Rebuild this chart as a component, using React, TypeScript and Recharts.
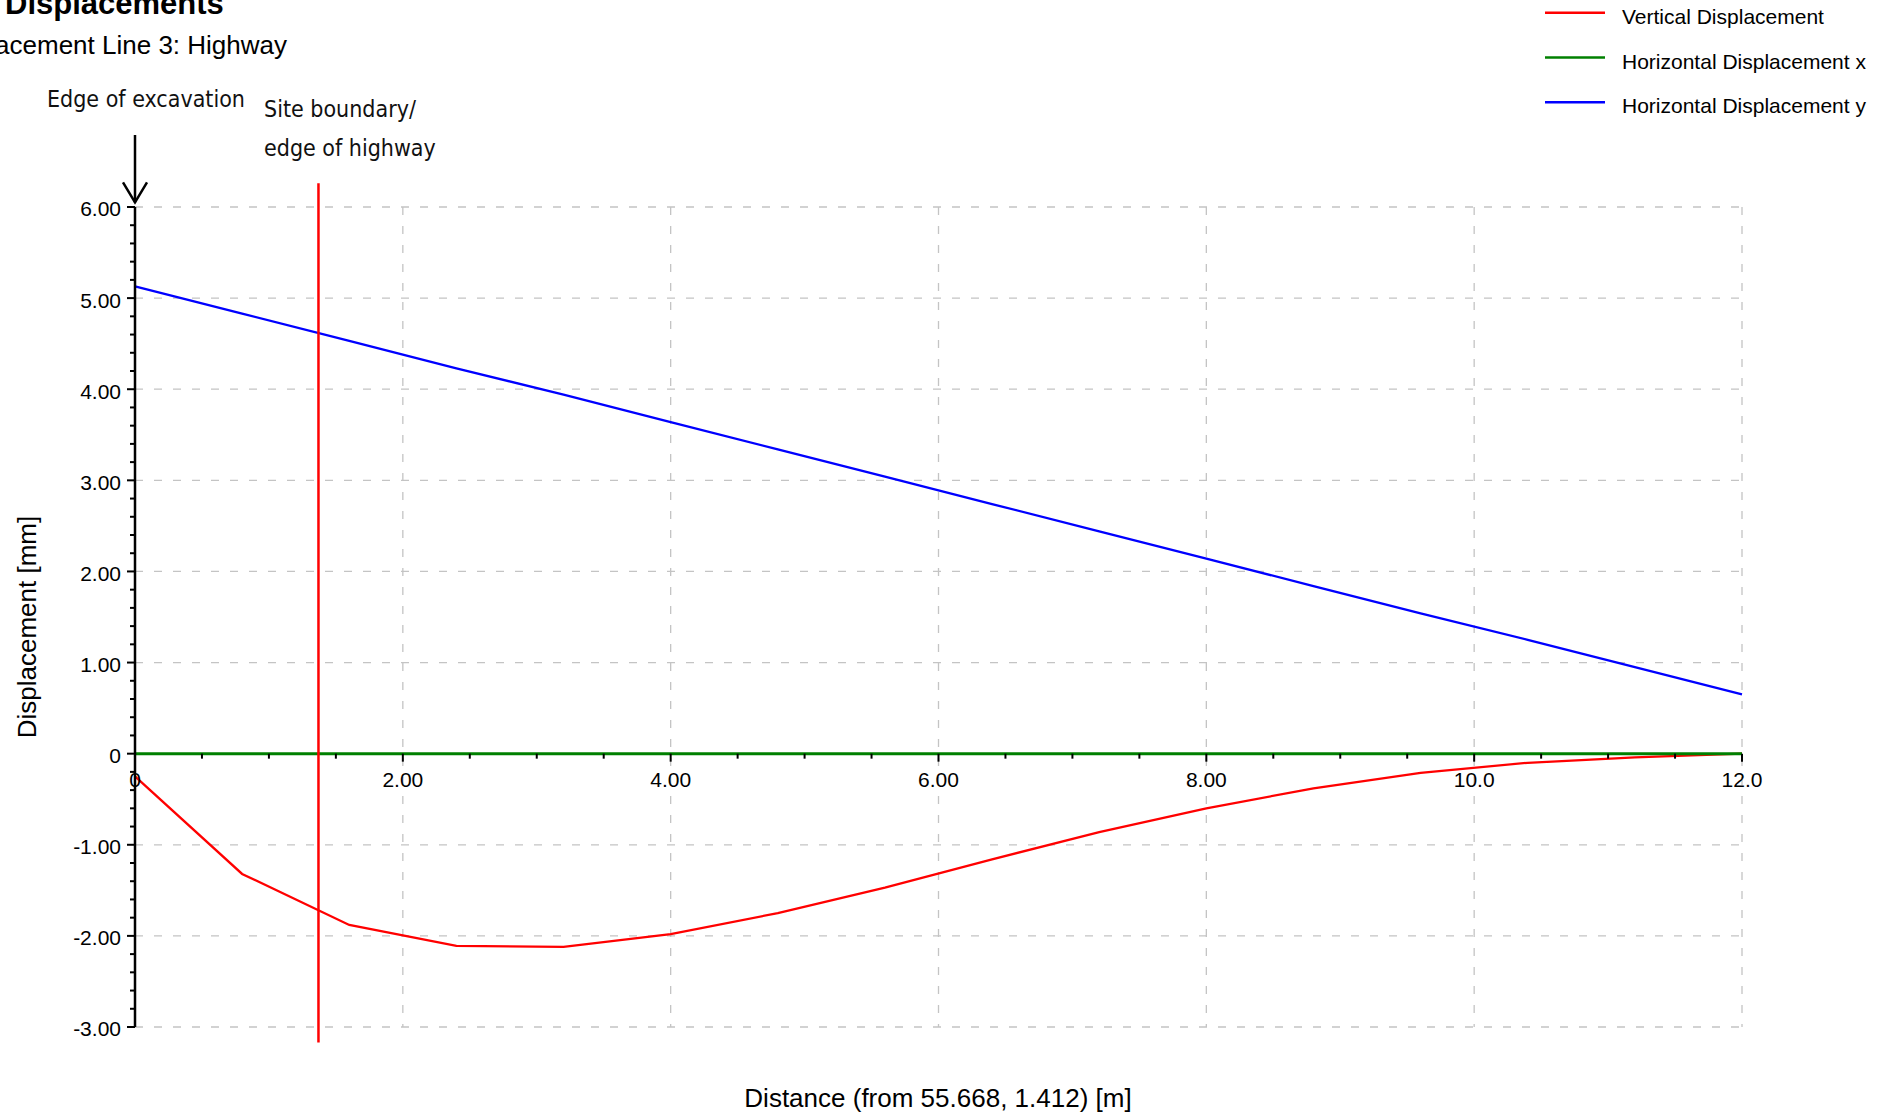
import React from "react";
import { ComposedChart, Line, Scatter, XAxis, YAxis, CartesianGrid, ReferenceLine } from "recharts";

// distance along displacement line [m]
const distance = [0, 0.8, 1.6, 2.4, 3.2, 4.0, 4.8, 5.6, 6.4, 7.2, 8.0, 8.8, 9.6, 10.4, 11.2, 12.0];
// displacements [mm]
const verticalDisp = [-0.25, -1.32, -1.88, -2.11, -2.12, -1.98, -1.75, -1.47, -1.16, -0.86, -0.6, -0.38, -0.21, -0.1, -0.04, 0.0];
const horizontalX = [0, 0, 0, 0, 0, 0, 0, 0, 0, 0, 0, 0, 0, 0, 0, 0];
const horizontalY = [5.13, 4.83, 4.53, 4.23, 3.94, 3.64, 3.34, 3.04, 2.74, 2.44, 2.14, 1.84, 1.54, 1.25, 0.95, 0.65];

const yMajorTicks = [-3, -2, -1, 0, 1, 2, 3, 4, 5, 6];
const yMinorSteps = [0.2, 0.4, 0.6, 0.8];
const xMajorTicks = [0, 2, 4, 6, 8, 10, 12];
const xTickLabels = ["0", "2.00", "4.00", "6.00", "8.00", "10.0", "12.0"];
const xMinorTicks = [0.5, 1, 1.5, 2.5, 3, 3.5, 4.5, 5, 5.5, 6.5, 7, 7.5, 8.5, 9, 9.5, 10.5, 11, 11.5];
const gridX = [2, 4, 6, 8, 10, 12];

const excavationEdgeX = 0;
const siteBoundaryX = 1.37;

const series = [
  { key: "vertical", name: "Vertical Displacement", color: "#ff0000", values: verticalDisp },
  { key: "horizX", name: "Horizontal Displacement x", color: "#008000", values: horizontalX },
  { key: "horizY", name: "Horizontal Displacement y", color: "#0000ff", values: horizontalY },
];

const rows = distance.map((x, i) => {
  const r: any = { x };
  series.forEach((s) => (r[s.key] = s.values[i]));
  return r;
});

const yTicks = [
  ...yMajorTicks,
  ...yMajorTicks.slice(0, -1).flatMap((v) => yMinorSteps.map((f) => +(v + f).toFixed(1))),
].sort((a, b) => a - b);

const xTickRows = [
  ...xMajorTicks.map((x, i) => ({ x, y: 0, label: xTickLabels[i] })),
  ...xMinorTicks.map((x) => ({ x, y: 0, label: "" })),
];

const FONT = "'Liberation Sans', Arial, sans-serif";
const NARROW = "'DejaVu Sans Condensed', 'DejaVu Sans', sans-serif";

function YTick({ x, y, payload }: any) {
  const v = payload.value;
  const major = yMajorTicks.includes(v);
  return (
    <g>
      <line x1={x - (major ? 8 : 5)} x2={x} y1={y} y2={y} stroke="#000" strokeWidth={2} />
      {major && (
        <text x={x - 14} y={y} dy="0.45em" textAnchor="end" fontSize={21} fill="#000" fontFamily={FONT}>
          {v === 0 ? "0" : v.toFixed(2)}
        </text>
      )}
    </g>
  );
}

function XTickMark({ cx, cy, payload }: any) {
  return (
    <g>
      <line x1={cx} x2={cx} y1={cy} y2={cy + (payload.label ? 8 : 5)} stroke="#000" strokeWidth={2} />
      {payload.label && (
        <text x={cx} y={cy + 33} textAnchor="middle" fontSize={21} fill="#000" fontFamily={FONT}>
          {payload.label}
        </text>
      )}
    </g>
  );
}

function ArrowShape({ x1, y1, x2, y2 }: any) {
  const tipY = Math.max(y1, y2);
  const topY = Math.min(y1, y2);
  const x = x2;
  return (
    <g>
      <line x1={x} x2={x} y1={topY} y2={tipY} stroke="#000" strokeWidth={2.5} />
      <polyline points={`${x - 12},${tipY - 20} ${x},${tipY} ${x + 12},${tipY - 20}`} fill="none" stroke="#000" strokeWidth={2.5} />
    </g>
  );
}

export default function App() {
  return (
    <div style={{ position: "absolute", left: 0, top: 0, width: 1892, height: 1116, background: "#fff", fontFamily: FONT, overflow: "hidden" }}>
      <ComposedChart width={1892} height={1116} data={rows} margin={{ top: 207, right: 150, bottom: 89, left: 50 }}>
        <CartesianGrid
          stroke="#c4c4c4"
          strokeWidth={1.3}
          strokeDasharray="8 11"
          horizontalValues={yMajorTicks}
          verticalValues={gridX}
        />
        <XAxis type="number" dataKey="x" domain={[0, 12]} ticks={xMajorTicks} hide />
        <YAxis
          type="number"
          domain={[-3, 6]}
          ticks={yTicks}
          interval={0}
          width={85}
          axisLine={{ stroke: "#000", strokeWidth: 2.5 }}
          tickLine={false}
          tickSize={0}
          tickMargin={0}
          tick={<YTick />}
        />
        {series.map((s) => (
          <Line
            key={s.key}
            type="linear"
            dataKey={s.key}
            name={s.name}
            stroke={s.color}
            strokeWidth={s.key === "horizX" ? 3 : 2.3}
            dot={false}
            activeDot={false}
            isAnimationActive={false}
          />
        ))}
        <Scatter data={xTickRows} dataKey="y" shape={<XTickMark />} isAnimationActive={false} legendType="none" />
        <ReferenceLine
          segment={[{ x: siteBoundaryX, y: 6.26 }, { x: siteBoundaryX, y: -3.17 }]}
          stroke="#ff0000"
          strokeWidth={2.5}
          ifOverflow="visible"
        />
        <ReferenceLine
          segment={[{ x: excavationEdgeX, y: 6.79 }, { x: excavationEdgeX, y: 6.05 }]}
          ifOverflow="visible"
          shape={ArrowShape}
        />
      </ComposedChart>
      <svg width={1892} height={1116} style={{ position: "absolute", left: 0, top: 0, pointerEvents: "none" }}>
        <text x={5} y={14} fontSize={31} fontWeight="bold" fontFamily={FONT}>Displacements</text>
        <text x={287} y={54} fontSize={26} textAnchor="end" fontFamily={FONT}>Displacement Line 3: Highway</text>
        <text x={47} y={107} fontSize={23} fontFamily={NARROW} fill="#111">Edge of excavation</text>
        <text x={264} y={117} fontSize={23} fontFamily={NARROW} fill="#111">Site boundary/</text>
        <text x={264} y={156} fontSize={23} fontFamily={NARROW} fill="#111">edge of highway</text>
        <text x={938} y={1107} fontSize={26} textAnchor="middle" fontFamily={FONT}>Distance (from 55.668, 1.412) [m]</text>
        <text transform="translate(36,627) rotate(-90)" fontSize={26} textAnchor="middle" fontFamily={FONT}>Displacement [mm]</text>
        {series.map((s, i) => (
          <g key={s.key}>
            <line x1={1545} x2={1605} y1={12.7 + i * 44.8} y2={12.7 + i * 44.8} stroke={s.color} strokeWidth={2.6} />
            <text x={1622} y={24 + i * 44.7} fontSize={21} fontFamily={FONT}>{s.name}</text>
          </g>
        ))}
      </svg>
    </div>
  );
}
